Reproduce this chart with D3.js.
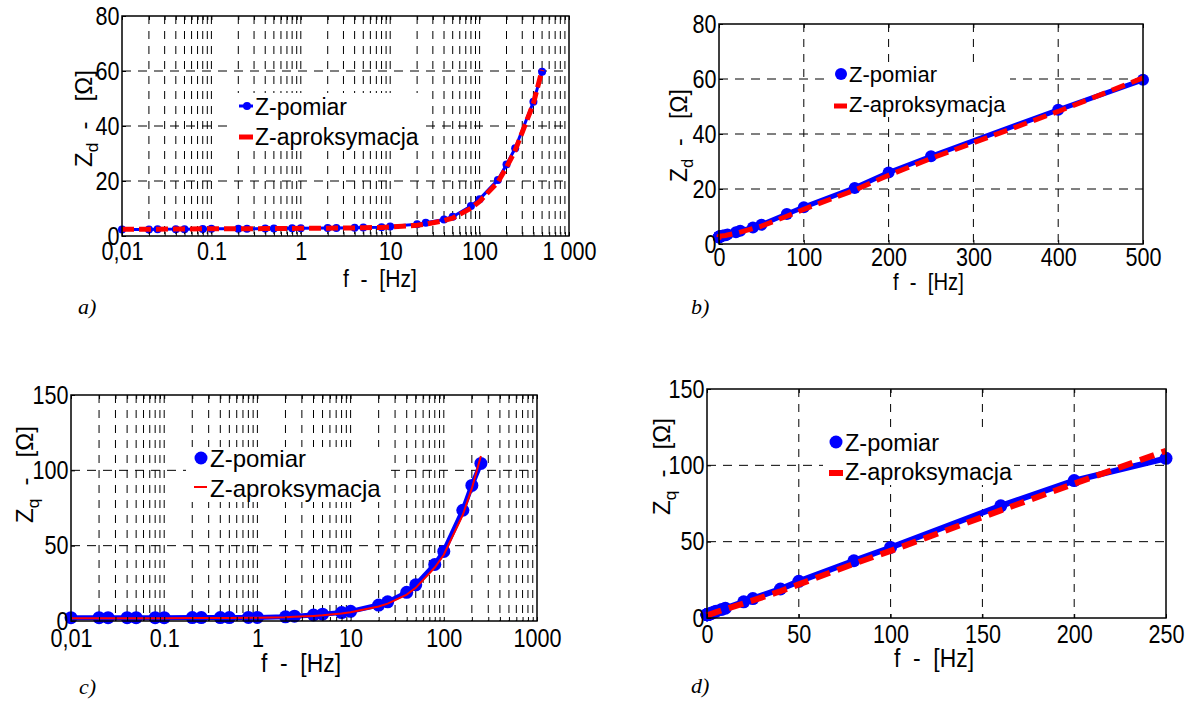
<!DOCTYPE html>
<html>
<head>
<meta charset="utf-8">
<script src="https://cdn.jsdelivr.net/npm/d3@7"></script>
<style>
  body { margin: 0; background: #fff; }
  svg { display: block; font-family: "Liberation Sans", Arial, sans-serif; }
</style>
</head>
<body>
<svg width="1190" height="701"></svg>
<script>
// measured points, Z_d (panels a, b)
var fD = [0.01, 0.02, 0.025, 0.04, 0.05, 0.08, 0.1, 0.2, 0.25, 0.4, 0.5, 0.8, 1, 2, 2.5, 4, 5, 8, 10, 20, 25, 40, 50, 80, 100, 160, 200, 250, 400, 500];
var zdPomiar = [2.4, 2.4, 2.45, 2.5, 2.5, 2.55, 2.6, 2.6, 2.65, 2.7, 2.7, 2.8, 2.8, 2.9, 2.95, 3.0, 3.05, 3.2, 3.5, 4.3, 4.8, 6.0, 7.0, 10.9, 13.4, 20.4, 26.0, 31.9, 48.8, 59.7];
var zdAproks = [2.5, 2.5, 2.5, 2.55, 2.55, 2.6, 2.6, 2.65, 2.65, 2.7, 2.7, 2.75, 2.8, 2.85, 2.9, 2.95, 3.0, 3.1, 3.3, 3.9, 4.3, 5.6, 6.5, 10.1, 12.6, 19.6, 25.0, 31.1, 48.2, 60.4];

// measured points, Z_q (panels c, d)
var fQ = [0.01, 0.02, 0.025, 0.04, 0.05, 0.08, 0.1, 0.2, 0.25, 0.4, 0.5, 0.8, 1, 2, 2.5, 4, 5, 8, 10, 20, 25, 40, 50, 80, 100, 160, 200, 250];
var zqPomiar = [2.2, 2.2, 2.2, 2.2, 2.2, 2.2, 2.2, 2.3, 2.3, 2.3, 2.3, 2.4, 2.4, 2.8, 3.2, 4.0, 4.5, 5.6, 6.4, 10.6, 12.7, 19.0, 24.0, 37.5, 46.2, 73.5, 90.0, 104.6];
var zqAproks = [1.9, 1.9, 1.9, 1.9, 1.9, 1.9, 1.9, 2.0, 2.0, 2.0, 2.0, 2.1, 2.1, 2.5, 2.8, 3.4, 3.8, 5.0, 5.8, 9.6, 11.5, 17.5, 22.0, 35.5, 44.0, 70.5, 88.0, 109.5];

var logTicks = [0.01, 0.1, 1, 10, 100, 1000];
var logLabelsD = ["0,01", "0.1", "1", "10", "100", "1 000"];
var logLabelsQ = ["0,01", "0.1", "1", "10", "100", "1000"];
var linTicksD = [0, 100, 200, 300, 400, 500];
var linTicksQ = [0, 50, 100, 150, 200, 250];
var yTicksD = [0, 20, 40, 60, 80];
var yTicksQ = [0, 50, 100, 150];
var legendLabels = ["Z-pomiar", "Z-aproksymacja"];
var yLabelSub = ["d", "q"];
var panelLetters = ["a)", "b)", "c)", "d)"];

var svg = d3.select("svg");
var BLUE = "#0000ff", RED = "#ff0000";

var panels = [
  {f: fD, m: zdPomiar, a: zdAproks, log: true, xDom: [0.01, 1000], xTicks: logTicks, xLabels: logLabelsD, yDom: [0, 80], yTicks: yTicksD, sub: 0, letter: 0,
   box: [122, 16, 569, 236], pad: 6, r: 4, bw: 3, rw: 5, dash: "12,5", legLine: true,
   leg: {mx: 247, my: 106, tx: 255, ty1: 115, ry: 137, rx: [239, 253], ty2: 145, bg: [233, 93, 423, 150], fs: 23},
   xl: {x: 343, y: 287, fs: 24}, yl: {x: 92, y: 167, fs: 24}, let: {x: 78, y: 314}},
  {f: fD, m: zdPomiar, a: zdAproks, log: false, xDom: [0, 500], xTicks: linTicksD, xLabels: linTicksD, yDom: [0, 80], yTicks: yTicksD, sub: 0, letter: 1,
   box: [719, 24, 1143, 244], pad: 4, r: 6, bw: 5, rw: 5, dash: "14,7", legLine: false,
   leg: {mx: 841, my: 74, tx: 849, ty1: 82, ry: 106, rx: [834, 847], ty2: 112, bg: [825, 63, 1010, 117], fs: 22},
   xl: {x: 893, y: 290, fs: 23}, yl: {x: 687, y: 182, fs: 23}, let: {x: 691, y: 314}},
  {f: fQ, m: zqPomiar, a: zqAproks, log: true, xDom: [0.01, 1000], xTicks: logTicks, xLabels: logLabelsQ, yDom: [0, 150], yTicks: yTicksQ, sub: 1, letter: 2,
   box: [71, 395, 537, 621], pad: 8, r: 6.5, bw: 5, rw: 2, dash: null, legLine: false,
   leg: {mx: 201, my: 458, tx: 210, ty1: 467, ry: 487, rx: [194, 207], ty2: 497, bg: [186, 447, 386, 502], fs: 24},
   xl: {x: 261, y: 672, fs: 26}, yl: {x: 33, y: 523, fs: 24}, let: {x: 79, y: 694}},
  {f: fQ, m: zqPomiar, a: zqAproks, log: false, xDom: [0, 250], xTicks: linTicksQ, xLabels: linTicksQ, yDom: [0, 150], yTicks: yTicksQ, sub: 1, letter: 3,
   box: [707, 389, 1166, 618], pad: 7, r: 6.5, bw: 6, rw: 6, dash: "15,8", legLine: false,
   leg: {mx: 836, my: 442, tx: 845, ty1: 451, ry: 473, rx: [829, 843], ty2: 480, bg: [823, 430, 1014, 485], fs: 23.5},
   xl: {x: 894, y: 667, fs: 26}, yl: {x: 670, y: 515, fs: 24}, let: {x: 691, y: 693}}
];

panels.forEach(drawPanel);

function drawPanel(p) {
  var x0 = p.box[0], y0 = p.box[1], x1 = p.box[2], y1 = p.box[3];
  var w = x1 - x0, h = y1 - y0;
  var x = (p.log ? d3.scaleLog() : d3.scaleLinear()).domain(p.xDom).range([0, w]);
  var y = d3.scaleLinear().domain(p.yDom).range([h, 0]);

  var g = svg.append("g").attr("transform", "translate(" + x0 + "," + y0 + ")");

  // grid
  var gx = p.log ? x.ticks().filter(function(d) { return d > p.xDom[0] && d < p.xDom[1]; })
                 : p.xTicks.filter(function(d) { return d > p.xDom[0] && d < p.xDom[1]; });
  var gy = p.yTicks.filter(function(d) { return d > p.yDom[0] && d < p.yDom[1]; });

  g.append("g").selectAll("line").data(gx).enter().append("line")
    .attr("x1", function(d) { return x(d); }).attr("x2", function(d) { return x(d); })
    .attr("y1", 0).attr("y2", h)
    .attr("stroke", "#000").attr("stroke-width", 1).attr("stroke-dasharray", "8,7");
  g.append("g").selectAll("line").data(gy).enter().append("line")
    .attr("x1", 0).attr("x2", w)
    .attr("y1", function(d) { return y(d); }).attr("y2", function(d) { return y(d); })
    .attr("stroke", "#000").attr("stroke-width", 1).attr("stroke-dasharray", "9,7");

  // legend background hides grid
  var L = p.leg;
  svg.append("rect").attr("x", L.bg[0]).attr("y", L.bg[1])
    .attr("width", L.bg[2] - L.bg[0]).attr("height", L.bg[3] - L.bg[1]).attr("fill", "#fff");

  // data
  var ptsM = p.f.map(function(f, i) { return [f, p.m[i]]; });
  var ptsA = p.f.map(function(f, i) { return [f, p.a[i]]; });
  var line = d3.line().x(function(d) { return x(d[0]); }).y(function(d) { return y(d[1]); });

  g.append("path").datum(ptsM).attr("d", line)
    .attr("fill", "none").attr("stroke", BLUE).attr("stroke-width", p.bw).attr("stroke-linejoin", "round");
  g.append("g").selectAll("circle").data(ptsM).enter().append("circle")
    .attr("cx", function(d) { return x(d[0]); }).attr("cy", function(d) { return y(d[1]); })
    .attr("r", p.r).attr("fill", BLUE);
  var ra = g.append("path").datum(ptsA).attr("d", line)
    .attr("fill", "none").attr("stroke", RED).attr("stroke-width", p.rw);
  if (p.dash) ra.attr("stroke-dasharray", p.dash);

  // axes (inward ticks + box)
  var tickV = p.log ? x.ticks() : p.xTicks;
  g.append("g").attr("transform", "translate(0," + h + ")")
    .call(d3.axisBottom(x).tickValues(tickV).tickSize(-4).tickFormat(""))
    .call(function(s) { s.select(".domain").remove(); });
  g.append("g")
    .call(d3.axisTop(x).tickValues(tickV).tickSize(-4).tickFormat(""))
    .call(function(s) { s.select(".domain").remove(); });
  g.append("g")
    .call(d3.axisLeft(y).tickValues(p.yTicks).tickSize(-4).tickFormat(""))
    .call(function(s) { s.select(".domain").remove(); });
  g.append("rect").attr("width", w).attr("height", h)
    .attr("fill", "none").attr("stroke", "#000").attr("stroke-width", 1.5);

  // tick labels (tall, narrow lettering like the scan)
  var ax = g.append("g").attr("transform", "translate(0," + h + ")")
    .call(d3.axisBottom(x).tickValues(p.xTicks).tickSize(0).tickPadding(p.pad)
      .tickFormat(function(d, i) { return p.xLabels[i]; }));
  var ay = g.append("g")
    .call(d3.axisLeft(y).tickValues(p.yTicks).tickSize(0).tickPadding(3));
  [ax, ay].forEach(function(a) {
    a.select(".domain").remove();
    a.selectAll("text").attr("font-family", "Liberation Sans, Arial, sans-serif")
      .attr("font-size", 26).attr("fill", "#000").attr("transform", "scale(0.83,1)");
  });

  // axis titles
  svg.append("text")
    .attr("transform", "translate(" + p.xl.x + "," + p.xl.y + ") scale(0.88,1)")
    .attr("font-size", p.xl.fs).text("f\u00A0\u00A0-\u00A0\u00A0[Hz]");

  var yt = svg.append("text")
    .attr("transform", "translate(" + p.yl.x + "," + p.yl.y + ") rotate(-90)")
    .attr("font-size", p.yl.fs);
  yt.append("tspan").text("Z");
  yt.append("tspan").attr("dy", 6).attr("font-size", p.yl.fs * 0.72).text(yLabelSub[p.sub]);
  yt.append("tspan").attr("dy", -6).text("\u00A0\u00A0-\u00A0\u00A0\u00A0[\u03A9]");

  // legend
  if (p.legLine) {
    svg.append("line").attr("x1", L.rx[0]).attr("x2", L.rx[1]).attr("y1", L.my).attr("y2", L.my)
      .attr("stroke", BLUE).attr("stroke-width", p.bw);
  }
  svg.append("circle").attr("cx", L.mx).attr("cy", L.my).attr("r", p.r).attr("fill", BLUE);
  svg.append("line").attr("x1", L.rx[0]).attr("x2", L.rx[1]).attr("y1", L.ry).attr("y2", L.ry)
    .attr("stroke", RED).attr("stroke-width", p.rw);
  svg.append("text").attr("x", L.tx).attr("y", L.ty1).attr("font-size", L.fs).text(legendLabels[0]);
  svg.append("text").attr("x", L.tx).attr("y", L.ty2).attr("font-size", L.fs).text(legendLabels[1]);

  // panel letter
  svg.append("text").attr("x", p.let.x).attr("y", p.let.y)
    .attr("font-family", "Liberation Serif, Times New Roman, serif")
    .attr("font-style", "italic").attr("font-size", 22).text(panelLetters[p.letter]);
}
</script>
</body>
</html>
